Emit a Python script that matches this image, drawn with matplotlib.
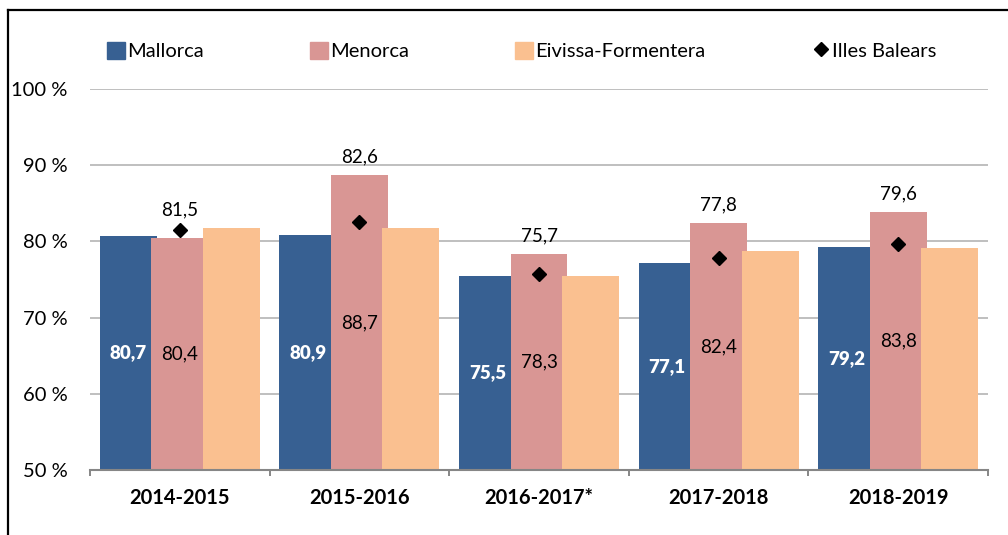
import matplotlib.pyplot as plt
from matplotlib.patches import Patch
from matplotlib.lines import Line2D
import numpy as np

plt.rcParams['font.family'] = ['Lato', 'DejaVu Sans']

categories = ['2014-2015', '2015-2016', '2016-2017*', '2017-2018', '2018-2019']
mallorca = [80.7, 80.9, 75.5, 77.1, 79.2]
menorca = [80.4, 88.7, 78.3, 82.4, 83.8]
eivissa = [81.8, 81.8, 75.5, 78.8, 79.1]
balears = [81.5, 82.6, 75.7, 77.8, 79.6]
yticks = [50, 60, 70, 80, 90, 100]

c_mall = '#376092'
c_men = '#D99694'
c_eiv = '#FAC090'


def fmt(v):
    return f'{v:.1f}'.replace('.', ',')


fig = plt.figure(figsize=(10.08, 5.35), dpi=100)
ax = fig.add_axes([90 / 1008, 65 / 535, 898 / 1008, 381 / 535])

x = np.arange(len(categories))
base = 50
w = 0.317
step = 0.287

b1 = ax.bar(x - step, np.array(mallorca) - base, w, bottom=base, color=c_mall, zorder=2)
b2 = ax.bar(x, np.array(menorca) - base, w, bottom=base, color=c_men, zorder=3)
b3 = ax.bar(x + step, np.array(eivissa) - base, w, bottom=base, color=c_eiv, zorder=4)

ax.bar_label(b1, labels=[fmt(v) for v in mallorca], label_type='center',
             color='white', fontweight='heavy', fontsize=13.5)
ax.bar_label(b2, labels=[fmt(v) for v in menorca], label_type='center',
             color='black', fontsize=13.5)
ax.bar_label(b3, labels=[fmt(v) for v in eivissa], label_type='center',
             color='black', fontsize=13.5)

ax.plot(x, balears, linestyle='none', marker='D', markersize=7,
        color='black', zorder=5)
# Illes Balears labels sit above the tallest bar of each group
for xi, v, a, b, c in zip(x, balears, mallorca, menorca, eivissa):
    top = max(a, b, c)
    ax.annotate(fmt(v), (xi, top), xytext=(0, 7), textcoords='offset points',
                ha='center', va='bottom', fontsize=13.5)

ax.set_xlim(-0.5, len(categories) - 0.5)
ax.set_ylim(50, 100)
ax.set_yticks(yticks)
ax.set_yticklabels([f'{t} %' for t in yticks], fontsize=14.5)
ax.tick_params(axis='y', length=0, pad=16)
ax.yaxis.grid(True, color='#BFBFBF', linewidth=1.4, zorder=0)
ax.set_axisbelow(True)

ax.set_xticks(x)
ax.set_xticklabels(categories, fontsize=14.5, fontweight='bold')
ax.set_xticks(np.arange(len(categories) + 1) - 0.5, minor=True)
ax.tick_params(axis='x', which='major', length=0, pad=13)
ax.tick_params(axis='x', which='minor', length=4.5, width=1.4, color='#868686')

for s in ['top', 'right', 'left']:
    ax.spines[s].set_visible(False)
ax.spines['bottom'].set_color('#868686')
ax.spines['bottom'].set_linewidth(1.5)
ax.spines['bottom'].set_zorder(6)

handles = [Patch(color=c_mall, label='Mallorca'),
           Patch(color=c_men, label='Menorca'),
           Patch(color=c_eiv, label='Eivissa-Formentera'),
           Line2D([], [], linestyle='none', marker='D', markersize=7,
                  color='black', label='Illes Balears')]
fig.legend(handles=handles, loc='center left', bbox_to_anchor=(107 / 1008, 1 - 51 / 535),
           ncol=4, frameon=False, fontsize=14.5, handlelength=0.9, handleheight=0.9,
           handletextpad=0.12, columnspacing=5.25, borderpad=0, borderaxespad=0)

# outer frame (chart area border)
fig.add_artist(Line2D([8 / 1008, 1.0], [1 - 10 / 535, 1 - 10 / 535],
                      transform=fig.transFigure, color='black', linewidth=1.6))
fig.add_artist(Line2D([8 / 1008, 8 / 1008], [0, 1 - 10 / 535],
                      transform=fig.transFigure, color='black', linewidth=1.6))

fig.savefig('out.png', dpi=100)
